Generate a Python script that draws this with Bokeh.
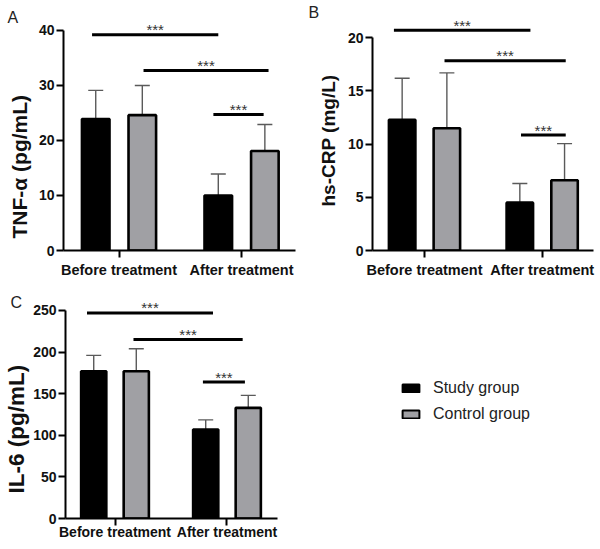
from bokeh.plotting import figure
from bokeh.layouts import row, column
from bokeh.models import (ColumnDataSource, Range1d, FixedTicker, Whisker, TeeHead,
                          Title, Legend, LegendItem)
from bokeh.core.properties import value
from bokeh.embed import file_html
from bokeh.resources import INLINE

FONT = "Liberation Sans"

categories = ["Before treatment", "After treatment"]
groups = ["Study group", "Control group"]

# Panel A: TNF-alpha (pg/mL)
tnf_study = [23.9, 10.0]
tnf_study_sd = [5.2, 3.9]
tnf_control = [24.6, 18.1]
tnf_control_sd = [5.4, 4.8]
tnf_sig_y = [39.2, 32.7, 24.7]
tnf_sig_x0 = [0.78, 1.20, 1.77]
tnf_sig_x1 = [1.81, 2.22, 2.18]
tnf_ticks = [0, 10, 20, 30, 40]

# Panel B: hs-CRP (mg/L)
crp_study = [12.3, 4.5]
crp_study_sd = [3.9, 1.8]
crp_control = [11.5, 6.6]
crp_control_sd = [5.2, 3.45]
crp_sig_y = [20.7, 17.85, 10.85]
crp_sig_x0 = [0.74, 1.17, 1.82]
crp_sig_x1 = [1.90, 2.20, 2.20]
crp_ticks = [0, 5, 10, 15, 20]

# Panel C: IL-6 (pg/mL)
il6_study = [177, 107]
il6_study_sd = [19, 11.5]
il6_control = [177, 133]
il6_control_sd = [27, 15]
il6_sig_y = [247, 215, 164]
il6_sig_x0 = [0.75, 1.165, 1.785]
il6_sig_x1 = [1.875, 2.14, 2.16]
il6_ticks = [0, 50, 100, 150, 200, 250]

sig_text = "***"

STUDY_FILL = "black"
CONTROL_FILL = "#a0a0a4"
ERR_COLOR = "#5a5a5a"
OFFSET = 0.19
BAR_W = 0.225


def panel(letter, ylabel, study, study_sd, control, control_sd,
          sig_y, sig_x0, sig_x1, yticks, width, height, borders, xr, yr,
          ylabel_size, ylabel_offset, ylabel_standoff, letter_offset, letter_standoff,
          x_standoff=4, xlabel_size="14.5px"):
    left, right, top, bottom = borders
    p = figure(width=width, height=height, output_backend="svg",
               toolbar_location=None, x_range=Range1d(*xr), y_range=Range1d(*yr),
               min_border_left=left, min_border_right=right,
               min_border_top=top, min_border_bottom=bottom)
    p.outline_line_color = None
    p.xgrid.visible = False
    p.ygrid.visible = False

    xs = [i + 1 for i in range(len(categories))]
    sx = [x - OFFSET for x in xs]
    cx = [x + OFFSET for x in xs]

    s_src = ColumnDataSource(dict(x=sx, top=study,
                                  err=[v + e for v, e in zip(study, study_sd)]))
    c_src = ColumnDataSource(dict(x=cx, top=control,
                                  err=[v + e for v, e in zip(control, control_sd)]))

    for src in (s_src, c_src):
        w = Whisker(source=src, base="x", lower="top", upper="err", dimension="height",
                    line_color=ERR_COLOR, line_width=1.4, lower_head=None,
                    upper_head=TeeHead(size=15, line_color=ERR_COLOR, line_width=1.4))
        p.add_layout(w)

    p.vbar(x="x", top="top", bottom=0, width=BAR_W, source=s_src,
           fill_color=STUDY_FILL, line_color="black", line_width=2.6)
    p.vbar(x="x", top="top", bottom=0, width=BAR_W, source=c_src,
           fill_color=CONTROL_FILL, line_color="black", line_width=2.6)

    sig_src = ColumnDataSource(dict(x0=sig_x0, x1=sig_x1, y=sig_y,
                                    xm=[(a + b) / 2 for a, b in zip(sig_x0, sig_x1)],
                                    t=[sig_text] * len(sig_y)))
    p.segment(x0="x0", x1="x1", y0="y", y1="y", source=sig_src,
              line_color="black", line_width=3)
    p.text(x="xm", y="y", text="t", source=sig_src, text_align="center",
           text_baseline="alphabetic", y_offset=-5, text_font=value(FONT),
           text_font_size="15px", text_color="#333333")

    # axes
    p.xaxis.ticker = FixedTicker(ticks=xs, minor_ticks=[])
    p.xaxis.major_label_overrides = {x: c for x, c in zip(xs, categories)}
    p.yaxis.ticker = FixedTicker(ticks=yticks, minor_ticks=[])
    p.yaxis.bounds = (yticks[0], yticks[-1])
    for ax in (p.xaxis[0], p.yaxis[0]):
        ax.axis_line_width = 2
        ax.axis_line_color = "black"
        ax.major_tick_line_width = 2
        ax.major_tick_line_color = "black"
        ax.major_tick_in = 0
        ax.major_tick_out = 7
        ax.minor_tick_out = 0
        ax.minor_tick_in = 0
        ax.major_label_text_font = FONT
        ax.major_label_text_font_style = "bold"
        ax.major_label_text_color = "#111111"
    p.xaxis.major_label_text_font_size = xlabel_size
    p.xaxis.major_label_standoff = x_standoff
    p.yaxis.major_label_text_font_size = "14px"
    p.yaxis.major_label_standoff = 2

    # y-axis title (placed outside the axis, positioned along it)
    p.add_layout(Title(text=ylabel, align="left", vertical_align="bottom",
                       offset=ylabel_offset, standoff=ylabel_standoff,
                       text_font=FONT, text_font_style="bold",
                       text_font_size=ylabel_size, text_color="#111111"), "left")

    # panel letter
    p.title.text = letter
    p.title.align = "left"
    p.title.vertical_align = "bottom"
    p.title.offset = letter_offset
    p.title.standoff = letter_standoff
    p.title.text_font = FONT
    p.title.text_font_style = "normal"
    p.title.text_font_size = "16px"
    p.title.text_color = "#222222"
    return p


pa = panel("A", "TNF-α (pg/mL)", tnf_study, tnf_study_sd, tnf_control, tnf_control_sd,
           tnf_sig_y, tnf_sig_x0, tnf_sig_x1, tnf_ticks,
           300, 282, (63, 5, 14, 32), (0.547, 2.44), (0, 42.9),
           "21px", 12, 9, -56, -22)
pb = panel("B", "hs-CRP (mg/L)", crp_study, crp_study_sd, crp_control, crp_control_sd,
           crp_sig_y, crp_sig_x0, crp_sig_x1, crp_ticks,
           298, 282, (72, 5, 8, 31), (0.558, 2.436), (0, 22.19),
           "19px", 44, 12, -64, -13)
pc = panel("C", "IL-6 (pg/mL)", il6_study, il6_study_sd, il6_control, il6_control_sd,
           il6_sig_y, il6_sig_x0, il6_sig_x1, il6_ticks,
           300, 265, (63, 23, 11, 29), (0.558, 2.451), (0, 270.4),
           "22.5px", 25, 3, -55, -34,
           x_standoff=-2, xlabel_size="14px")

# legend panel
pd_ = figure(width=298, height=265, output_backend="svg", toolbar_location=None,
             min_border=0, x_axis_type=None, y_axis_type=None,
             x_range=Range1d(0, 1), y_range=Range1d(0, 1))
pd_.outline_line_color = None
pd_.xgrid.visible = False
pd_.ygrid.visible = False
leg_s = ColumnDataSource(dict(x=[1, 2], top=il6_study))
leg_c = ColumnDataSource(dict(x=[1, 2], top=il6_control))
r1 = pd_.vbar(x="x", top="top", width=0.1, source=leg_s, visible=False,
              fill_color=STUDY_FILL, line_color="black", line_width=2)
r2 = pd_.vbar(x="x", top="top", width=0.1, source=leg_c, visible=False,
              fill_color=CONTROL_FILL, line_color="black", line_width=2)
leg = Legend(items=[LegendItem(label=groups[0], renderers=[r1]),
                    LegendItem(label=groups[1], renderers=[r2])],
             location=(100, 94), glyph_width=21, glyph_height=10,
             label_text_font=FONT, label_text_font_size="16px",
             label_text_color="#222222", label_standoff=12, label_height=20,
             spacing=6, padding=0, margin=0, border_line_color=None,
             background_fill_alpha=0, click_policy="none")
pd_.add_layout(leg)

layout = column(row(pa, pb), row(pc, pd_))

with open("out.html", "w") as f:
    f.write(file_html(layout, INLINE))
